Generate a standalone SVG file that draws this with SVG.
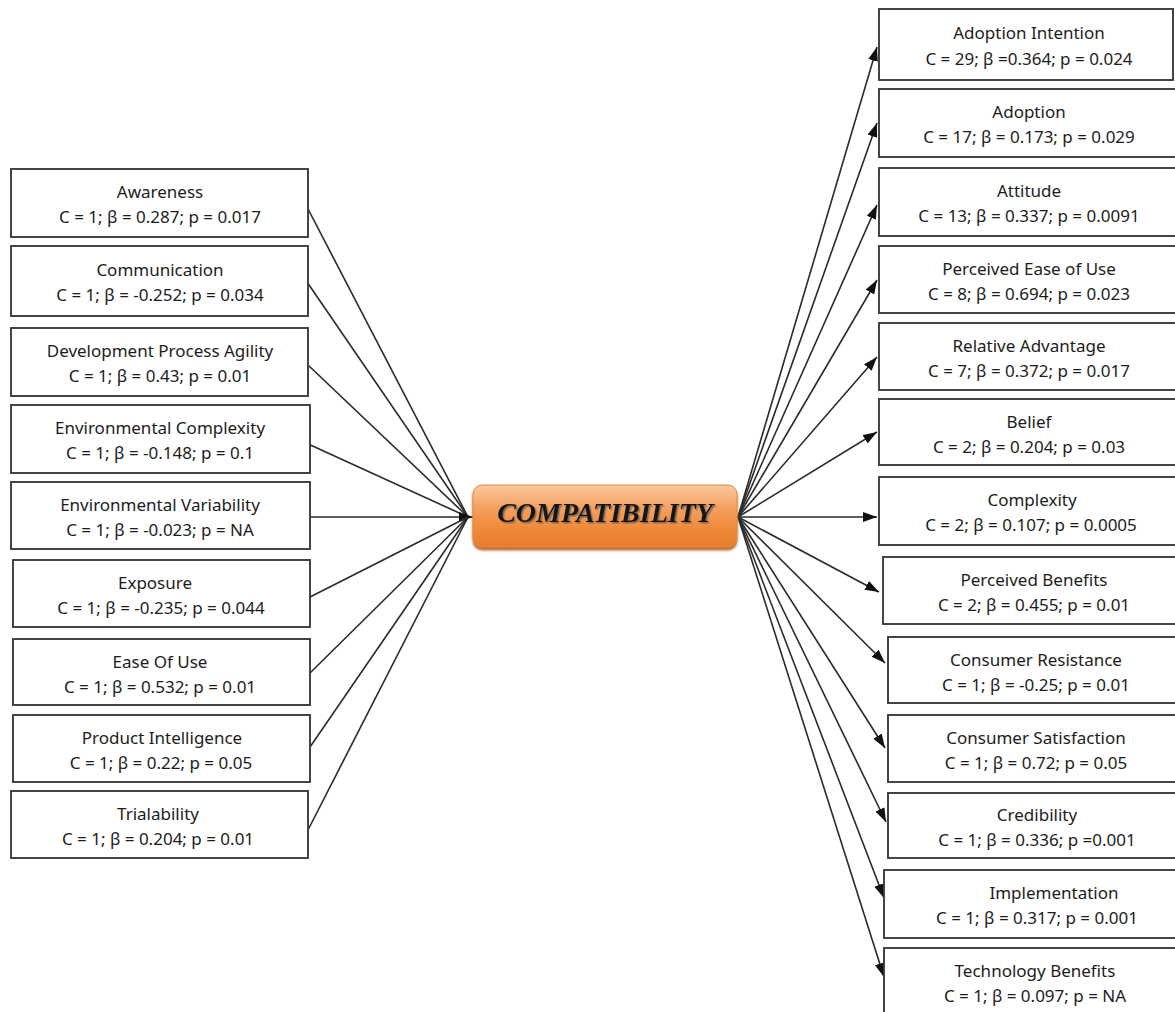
<svg xmlns="http://www.w3.org/2000/svg" width="1175" height="1012" viewBox="0 0 1175 1012">
<defs>
<style>
.box{fill:#fff;stroke:#3c3c3c;stroke-width:1.9}
.t{font-family:"Noto Sans","Liberation Sans",sans-serif;font-size:17px;fill:#1c1c1c;text-anchor:middle}
.c{stroke:#2a2a2a;stroke-width:1.6;fill:none}
.ca{stroke:#2a2a2a;stroke-width:1.6;fill:none;marker-end:url(#ah)}
</style>
<marker id="ah" markerUnits="userSpaceOnUse" markerWidth="16" markerHeight="12" refX="14" refY="5" orient="auto">
<path d="M0,0 L14,5 L0,10 z" fill="#111"/>
</marker>
<linearGradient id="og" x1="0" y1="0" x2="0" y2="1">
<stop offset="0" stop-color="#f9c9a0"/>
<stop offset="0.35" stop-color="#f4a263"/>
<stop offset="0.7" stop-color="#f08a3a"/>
<stop offset="1" stop-color="#e67d2c"/>
</linearGradient>
<filter id="sh" x="-10%" y="-20%" width="120%" height="150%">
<feDropShadow dx="0" dy="3" stdDeviation="1" flood-color="#b85a18" flood-opacity="0.9"/>
</filter>
<filter id="tsh" x="-10%" y="-30%" width="120%" height="160%">
<feDropShadow dx="1.5" dy="1.5" stdDeviation="0.6" flood-color="#555" flood-opacity="0.7"/>
</filter>
</defs>
<rect width="1175" height="1012" fill="#fff"/>

<g id="connectors">
<line class="c" x1="307" y1="207" x2="468" y2="517"/>
<line class="c" x1="307" y1="282" x2="468" y2="517"/>
<line class="c" x1="308" y1="365" x2="468" y2="517"/>
<line class="c" x1="306" y1="443" x2="468" y2="517"/>
<line class="ca" x1="310" y1="517" x2="473" y2="517"/>
<line class="c" x1="310" y1="597" x2="468" y2="517"/>
<line class="c" x1="310" y1="673" x2="468" y2="517"/>
<line class="c" x1="310" y1="747" x2="468" y2="517"/>
<line class="c" x1="308" y1="830" x2="468" y2="517"/>

<line class="ca" x1="738" y1="517" x2="877" y2="47"/>
<line class="ca" x1="738" y1="517" x2="877" y2="123"/>
<line class="ca" x1="738" y1="517" x2="877" y2="205"/>
<line class="ca" x1="738" y1="517" x2="877" y2="280"/>
<line class="ca" x1="738" y1="517" x2="877" y2="357"/>
<line class="ca" x1="738" y1="517" x2="877" y2="432"/>
<line class="ca" x1="738" y1="517" x2="877" y2="517"/>
<line class="ca" x1="738" y1="517" x2="879" y2="592"/>
<line class="ca" x1="738" y1="517" x2="885" y2="663"/>
<line class="ca" x1="738" y1="517" x2="885" y2="748"/>
<line class="ca" x1="738" y1="517" x2="886" y2="822"/>
<line class="ca" x1="738" y1="517" x2="884" y2="898"/>
<line class="ca" x1="738" y1="517" x2="884" y2="977"/>
</g>

<g id="center">
<rect x="473" y="485" width="264" height="62" rx="9" fill="url(#og)" stroke="#e8883e" stroke-width="1" filter="url(#sh)"/>
<text x="605" y="522" text-anchor="middle" font-family="Liberation Serif, serif" font-weight="bold" font-style="italic" font-size="28" fill="#161616" filter="url(#tsh)">COMPATIBILITY</text>
</g>

<g id="awareness"><rect class="box" x="11" y="169" width="297" height="68"/><text class="t" x="160" y="198">Awareness</text><text class="t" x="160" y="223">C = 1; β = 0.287; p = 0.017</text></g>
<g id="communication"><rect class="box" x="11" y="246" width="297" height="70"/><text class="t" x="160" y="276">Communication</text><text class="t" x="160" y="301">C = 1; β = -0.252; p = 0.034</text></g>
<g id="dev-agility"><rect class="box" x="11" y="328" width="297" height="68"/><text class="t" x="160" y="357">Development Process Agility</text><text class="t" x="160" y="382">C = 1; β = 0.43; p = 0.01</text></g>
<g id="env-complexity"><rect class="box" x="11" y="405" width="299" height="68"/><text class="t" x="160" y="434">Environmental Complexity</text><text class="t" x="160" y="459">C = 1; β = -0.148; p = 0.1</text></g>
<g id="env-variability"><rect class="box" x="11" y="482" width="299" height="67"/><text class="t" x="160" y="511">Environmental Variability</text><text class="t" x="160" y="536">C = 1; β = -0.023; p = NA</text></g>
<g id="exposure"><rect class="box" x="13" y="560" width="297" height="67"/><text class="t" x="155" y="589">Exposure</text><text class="t" x="161" y="614">C = 1; β = -0.235; p = 0.044</text></g>
<g id="ease-of-use"><rect class="box" x="13" y="639" width="297" height="66"/><text class="t" x="160" y="668">Ease Of Use</text><text class="t" x="160" y="693">C = 1; β = 0.532; p = 0.01</text></g>
<g id="product-intelligence"><rect class="box" x="13" y="715" width="297" height="67"/><text class="t" x="162" y="744">Product Intelligence</text><text class="t" x="161" y="769">C = 1; β = 0.22; p = 0.05</text></g>
<g id="trialability"><rect class="box" x="11" y="791" width="297" height="67"/><text class="t" x="158" y="820">Trialability</text><text class="t" x="158" y="845">C = 1; β = 0.204; p = 0.01</text></g>

<g id="adoption-intention"><rect class="box" x="879" y="9" width="294" height="71"/><text class="t" x="1029" y="39">Adoption Intention</text><text class="t" x="1029" y="65">C = 29; β =0.364; p = 0.024</text></g>
<g id="adoption"><rect class="box" x="879" y="89" width="300" height="68"/><text class="t" x="1029" y="118">Adoption</text><text class="t" x="1029" y="143">C = 17; β = 0.173; p = 0.029</text></g>
<g id="attitude"><rect class="box" x="879" y="168" width="300" height="68"/><text class="t" x="1029" y="197">Attitude</text><text class="t" x="1029" y="222">C = 13; β = 0.337; p = 0.0091</text></g>
<g id="peou"><rect class="box" x="879" y="246" width="300" height="67"/><text class="t" x="1029" y="275">Perceived Ease of Use</text><text class="t" x="1029" y="300">C = 8; β = 0.694; p = 0.023</text></g>
<g id="relative-advantage"><rect class="box" x="879" y="323" width="300" height="67"/><text class="t" x="1029" y="352">Relative Advantage</text><text class="t" x="1029" y="377">C = 7; β = 0.372; p = 0.017</text></g>
<g id="belief"><rect class="box" x="879" y="399" width="300" height="66"/><text class="t" x="1029" y="428">Belief</text><text class="t" x="1029" y="453">C = 2; β = 0.204; p = 0.03</text></g>
<g id="complexity"><rect class="box" x="879" y="477" width="300" height="68"/><text class="t" x="1032" y="506">Complexity</text><text class="t" x="1031" y="531">C = 2; β = 0.107; p = 0.0005</text></g>
<g id="perceived-benefits"><rect class="box" x="883" y="557" width="300" height="67"/><text class="t" x="1034" y="586">Perceived Benefits</text><text class="t" x="1034" y="611">C = 2; β = 0.455; p = 0.01</text></g>
<g id="consumer-resistance"><rect class="box" x="888" y="637" width="300" height="66"/><text class="t" x="1036" y="666">Consumer Resistance</text><text class="t" x="1036" y="691">C = 1; β = -0.25; p = 0.01</text></g>
<g id="consumer-satisfaction"><rect class="box" x="888" y="715" width="300" height="67"/><text class="t" x="1036" y="744">Consumer Satisfaction</text><text class="t" x="1036" y="769">C = 1; β = 0.72; p = 0.05</text></g>
<g id="credibility"><rect class="box" x="888" y="793" width="300" height="65"/><text class="t" x="1037" y="821">Credibility</text><text class="t" x="1037" y="846">C = 1; β = 0.336; p =0.001</text></g>
<g id="implementation"><rect class="box" x="884" y="870" width="300" height="68"/><text class="t" x="1054" y="899">Implementation</text><text class="t" x="1037" y="924">C = 1; β = 0.317; p = 0.001</text></g>
<g id="technology-benefits"><rect class="box" x="884" y="948" width="300" height="70"/><text class="t" x="1035" y="977">Technology Benefits</text><text class="t" x="1035" y="1002">C = 1; β = 0.097; p = NA</text></g>
</svg>
